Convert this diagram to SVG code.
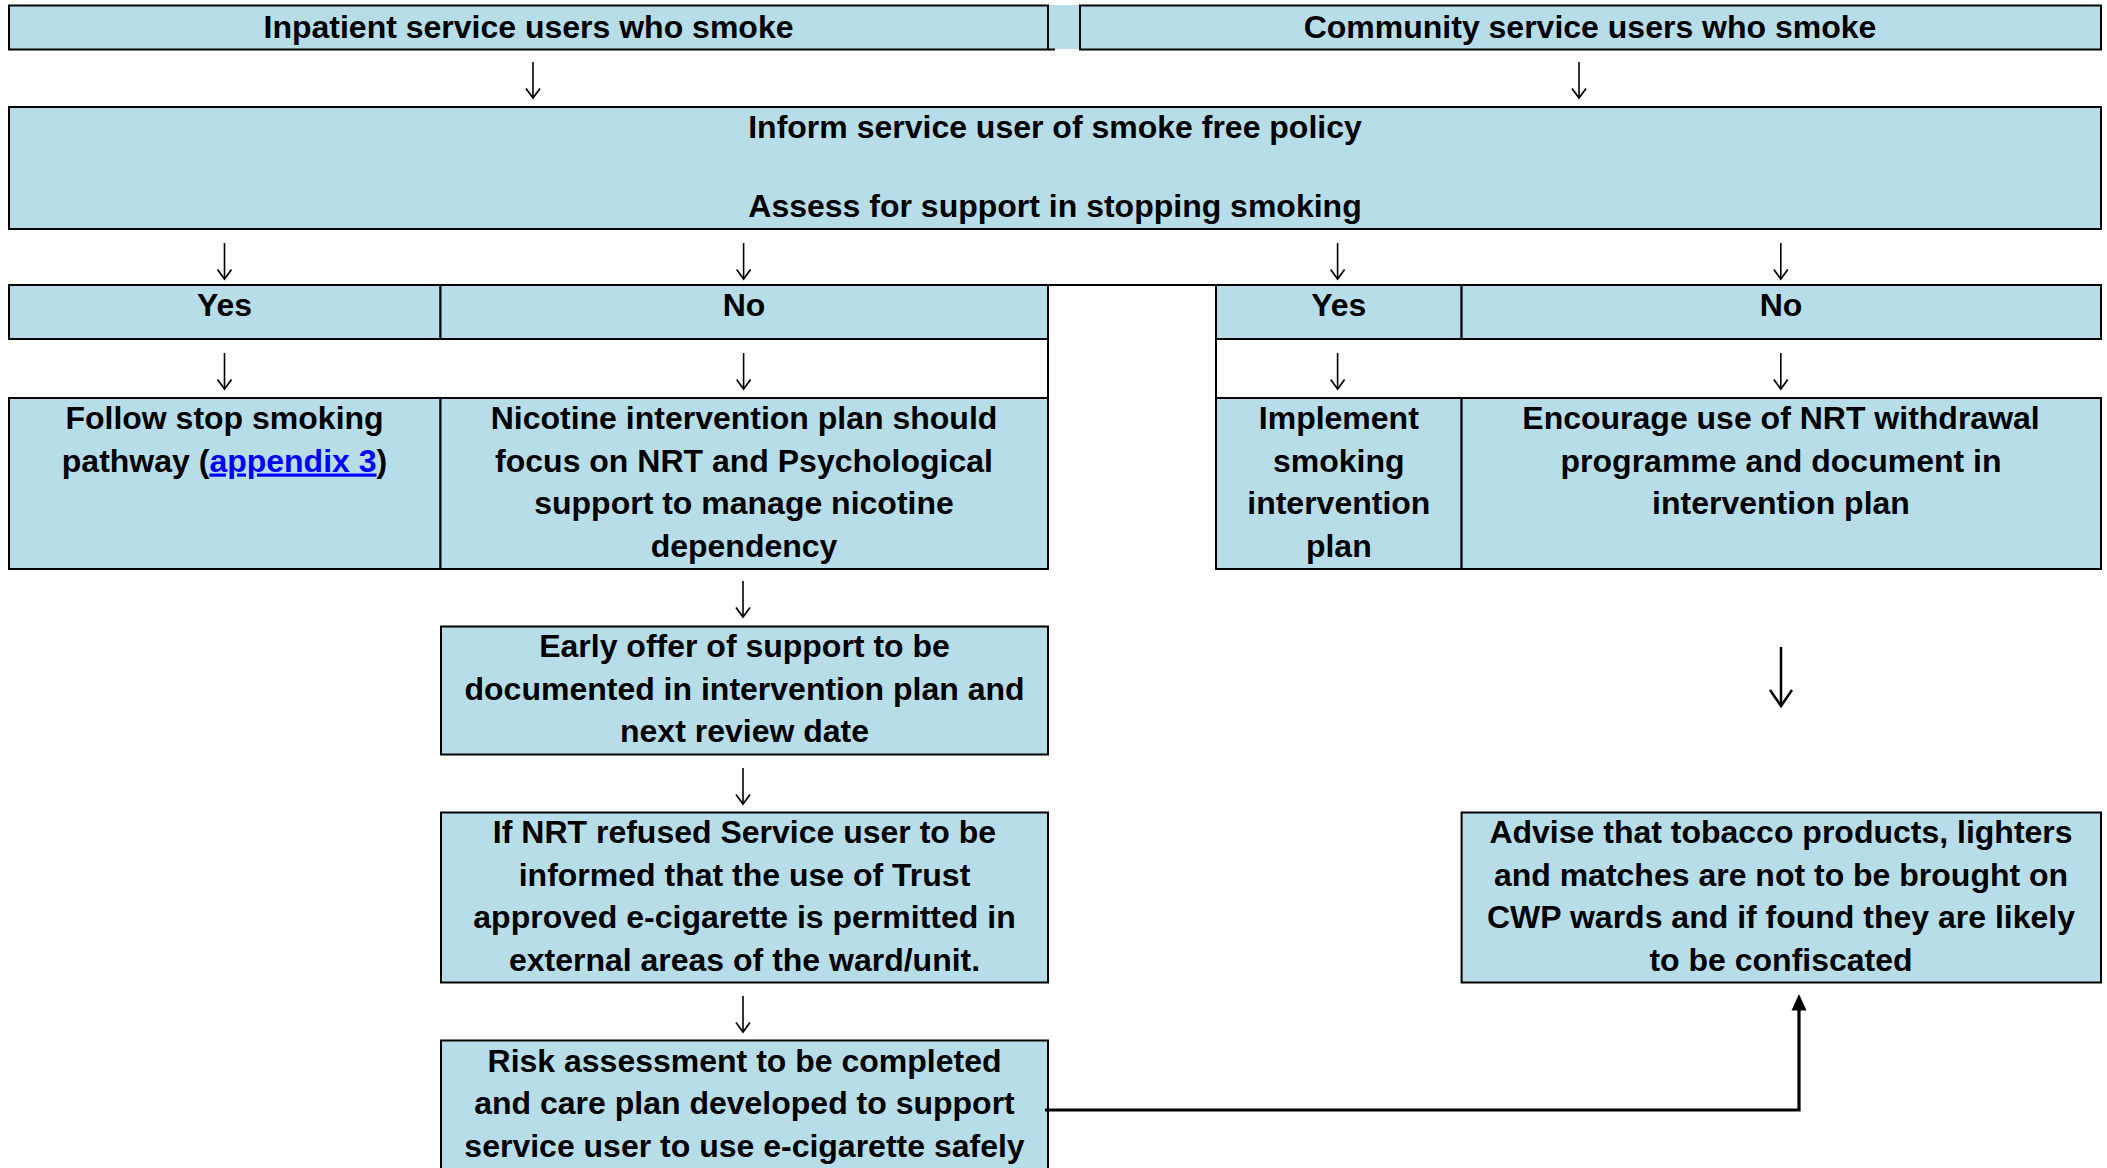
<svg xmlns="http://www.w3.org/2000/svg" width="2107" height="1168" viewBox="0 0 2107 1168">
  <style>
    .box { fill: #B7DDE8; stroke: #000; stroke-width: 2; }
    .fill { fill: #B7DDE8; }
    .rule { stroke: #000; stroke-width: 2; fill: none; }
    .t { font-family: "Liberation Sans", Arial, sans-serif; font-weight: bold; font-size: 32px; text-anchor: middle; fill: #000; }
    .link { fill: #0000FF; text-decoration: underline; }
    .step { stroke: #000; stroke-width: 1.6; fill: none; }
    .step-big { stroke: #000; stroke-width: 2.5; fill: none; }
    .route { stroke: #000; stroke-width: 3.2; fill: none; }
  </style>
  <defs>
    <marker id="vtip" markerUnits="userSpaceOnUse" viewBox="0 0 12 16" refX="10.5" refY="8" markerWidth="12" markerHeight="16" orient="auto">
      <path d="M1,1 L10.5,8 L1,15" fill="none" stroke="#000" stroke-width="1.7"/>
    </marker>
    <marker id="vtip-big" markerUnits="userSpaceOnUse" viewBox="0 0 20 26" refX="17.5" refY="13" markerWidth="20" markerHeight="26" orient="auto">
      <path d="M1.5,2 L17.5,13 L1.5,24" fill="none" stroke="#000" stroke-width="2.5"/>
    </marker>
    <marker id="solid" markerUnits="userSpaceOnUse" viewBox="0 0 17 16" refX="0.5" refY="8" markerWidth="17" markerHeight="16" orient="auto">
      <path d="M0,0.5 L16.5,8 L0,15.5 z" fill="#000"/>
    </marker>
  </defs>

  <!-- Entry points -->
  <g id="inpatient">
    <rect class="fill" x="1048" y="5" width="31" height="44"/>
    <rect class="box" x="9" y="5.5" width="1039" height="44"/>
    <line class="rule" x1="1048" y1="49.5" x2="1055" y2="49.5"/>
    <text class="t" x="528.5" y="37.5">Inpatient service users who smoke</text>
  </g>
  <g id="community">
    <rect class="box" x="1080" y="5.5" width="1021" height="44"/>
    <text class="t" x="1590" y="37.5">Community service users who smoke</text>
  </g>

  <g id="inform">
    <rect class="box" x="9" y="107" width="2092" height="122"/>
    <text class="t" x="1055" y="138">Inform service user of smoke free policy</text>
    <text class="t" x="1055" y="217">Assess for support in stopping smoking</text>
  </g>

  <!-- Inpatient branch table -->
  <g id="in-yes">
    <rect class="box" x="9" y="285" width="431.5" height="54"/>
    <text class="t" x="224.5" y="316">Yes</text>
  </g>
  <g id="in-no">
    <rect class="box" x="440.5" y="285" width="607.5" height="54"/>
    <text class="t" x="744" y="316">No</text>
  </g>
  <g id="follow-pathway">
    <rect class="box" x="9" y="398" width="431.5" height="171"/>
    <text class="t" x="224.5" y="429">Follow stop smoking</text>
    <text class="t" x="224.5" y="471.5">pathway (<tspan class="link">appendix 3</tspan>)</text>
  </g>
  <g id="nicotine-plan">
    <rect class="box" x="440.5" y="398" width="607.5" height="171"/>
    <text class="t" x="744" y="429">Nicotine intervention plan should</text>
    <text class="t" x="744" y="471.5">focus on NRT and Psychological</text>
    <text class="t" x="744" y="514">support to manage nicotine</text>
    <text class="t" x="744" y="556.5">dependency</text>
  </g>

  <!-- Community branch table -->
  <g id="com-yes">
    <rect class="box" x="1216" y="285" width="245.6" height="54"/>
    <text class="t" x="1338.8" y="316">Yes</text>
  </g>
  <g id="com-no">
    <rect class="box" x="1461.6" y="285" width="639.4" height="54"/>
    <text class="t" x="1781" y="316">No</text>
  </g>
  <g id="implement-plan">
    <rect class="box" x="1216" y="398" width="245.6" height="171"/>
    <text class="t" x="1338.8" y="429">Implement</text>
    <text class="t" x="1338.8" y="471.5">smoking</text>
    <text class="t" x="1338.8" y="514">intervention</text>
    <text class="t" x="1338.8" y="556.5">plan</text>
  </g>
  <g id="encourage-nrt">
    <rect class="box" x="1461.6" y="398" width="639.4" height="171"/>
    <text class="t" x="1781" y="429">Encourage use of NRT withdrawal</text>
    <text class="t" x="1781" y="471.5">programme and document in</text>
    <text class="t" x="1781" y="514">intervention plan</text>
  </g>

  <!-- Shared table rules between the two branches -->
  <g id="table-rules">
    <line class="rule" x1="9" y1="285" x2="2101" y2="285"/>
    <line class="rule" x1="9" y1="339" x2="1048" y2="339"/>
    <line class="rule" x1="9" y1="398" x2="1048" y2="398"/>
    <line class="rule" x1="1216" y1="339" x2="2101" y2="339"/>
    <line class="rule" x1="1216" y1="398" x2="2101" y2="398"/>
    <line class="rule" x1="1048" y1="285" x2="1048" y2="569"/>
    <line class="rule" x1="1216" y1="285" x2="1216" y2="569"/>
  </g>

  <!-- Inpatient follow-up steps -->
  <g id="early-offer">
    <rect class="box" x="441" y="626.5" width="607" height="128"/>
    <text class="t" x="744.5" y="657">Early offer of support to be</text>
    <text class="t" x="744.5" y="699.5">documented in intervention plan and</text>
    <text class="t" x="744.5" y="742">next review date</text>
  </g>
  <g id="nrt-refused">
    <rect class="box" x="441" y="812.5" width="607" height="170"/>
    <text class="t" x="744.5" y="843">If NRT refused Service user to be</text>
    <text class="t" x="744.5" y="885.5">informed that the use of Trust</text>
    <text class="t" x="744.5" y="928">approved e-cigarette is permitted in</text>
    <text class="t" x="744.5" y="970.5">external areas of the ward/unit.</text>
  </g>
  <g id="risk-assessment">
    <rect class="box" x="441" y="1040.5" width="607" height="140"/>
    <text class="t" x="744.5" y="1071.5">Risk assessment to be completed</text>
    <text class="t" x="744.5" y="1114">and care plan developed to support</text>
    <text class="t" x="744.5" y="1156.5">service user to use e-cigarette safely</text>
  </g>

  <g id="advise">
    <rect class="box" x="1461.6" y="812.5" width="639.4" height="170"/>
    <text class="t" x="1781" y="843">Advise that tobacco products, lighters</text>
    <text class="t" x="1781" y="885.5">and matches are not to be brought on</text>
    <text class="t" x="1781" y="928">CWP wards and if found they are likely</text>
    <text class="t" x="1781" y="970.5">to be confiscated</text>
  </g>

  <!-- Connectors -->
  <g id="connectors">
    <line class="step" x1="533" y1="62" x2="533" y2="98" marker-end="url(#vtip)"/>
    <line class="step" x1="1579" y1="62" x2="1579" y2="98" marker-end="url(#vtip)"/>

    <line class="step" x1="224.5" y1="243" x2="224.5" y2="279" marker-end="url(#vtip)"/>
    <line class="step" x1="743.6" y1="243" x2="743.6" y2="279" marker-end="url(#vtip)"/>
    <line class="step" x1="1337.6" y1="243" x2="1337.6" y2="279" marker-end="url(#vtip)"/>
    <line class="step" x1="1780.8" y1="243" x2="1780.8" y2="279" marker-end="url(#vtip)"/>

    <line class="step" x1="224.5" y1="353" x2="224.5" y2="389" marker-end="url(#vtip)"/>
    <line class="step" x1="743.6" y1="353" x2="743.6" y2="389" marker-end="url(#vtip)"/>
    <line class="step" x1="1337.6" y1="353" x2="1337.6" y2="389" marker-end="url(#vtip)"/>
    <line class="step" x1="1780.8" y1="353" x2="1780.8" y2="389" marker-end="url(#vtip)"/>

    <line class="step" x1="743" y1="581" x2="743" y2="617" marker-end="url(#vtip)"/>
    <line class="step" x1="743" y1="768" x2="743" y2="804" marker-end="url(#vtip)"/>
    <line class="step" x1="743" y1="996" x2="743" y2="1032" marker-end="url(#vtip)"/>

    <line class="step-big" x1="1781" y1="647" x2="1781" y2="706" marker-end="url(#vtip-big)"/>

    <path class="route" d="M1045,1110 H1799 V1010" marker-end="url(#solid)"/>
  </g>
</svg>
